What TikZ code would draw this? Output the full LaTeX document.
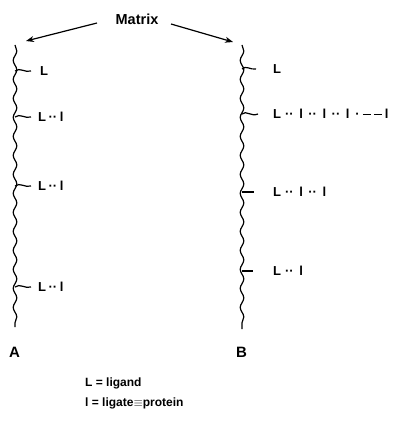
\documentclass[tikz,border=0pt]{standalone}
\usepackage{fontspec}
\setmainfont{Liberation Sans}
\usetikzlibrary{decorations.pathmorphing,arrows.meta}
\newcommand{\dd}{\hspace{2.5pt}··\hspace{2.5pt}}
\newcommand{\DD}{\hspace{5.5pt}··\hspace{5.5pt}}
\newcommand{\dsh}{\rule[3.5pt]{8pt}{1.3pt}}
\begin{document}
\begin{tikzpicture}[x=1pt,y=-1pt,
  wavy/.style={line width=1.2pt,decorate,decoration={snake,amplitude=1.8pt,segment length=19pt}},
  tick/.style={line width=1.2pt},
  lbl/.style={anchor=west,inner sep=0pt,font=\fontsize{13}{14}\selectfont\bfseries},
  arr/.style={line width=1.2pt,-{Stealth[length=8pt,width=6pt]}}]
\useasboundingbox (0,0) rectangle (395,422);
\node[font=\fontsize{14.5}{16}\selectfont\bfseries] (m) at (137,19) {Matrix};
\coordinate (la) at (26,41);
\coordinate (ra) at (233,42);
\draw[arr] (97,23) -- (la);
\draw[arr] (171,24) -- (ra);
% wavy lines
\coordinate (lt) at (15,45); \coordinate (lb) at (15,327);
\coordinate (rt) at (242,45); \coordinate (rb) at (242,329);
\draw[wavy] (lt) -- (lb);
\draw[wavy] (rt) -- (rb);
% left branches
\node[lbl] (l1) at (40,71) {L};
\node[lbl] (l2) at (38,117) {L\dd l};
\node[lbl] (l3) at (38,186) {L\dd l};
\node[lbl] (l4) at (38,287) {L\dd l};
\foreach \n/\y in {l1/71,l2/117,l3/186,l4/287}
  \draw[tick] (15,\y) .. controls (20,\y-4) and (25,\y+2) .. (31,\y);
% right branches
\node[lbl] (r1) at (273,69) {L};
\node[lbl] (r2) at (273,114) {L\hspace{4pt}··\hspace{5.5pt}l\DD l\DD l\hspace{6pt}·\hspace{3pt}\dsh\hspace{3pt}\dsh\hspace{3pt}l};
\node[lbl] (r3) at (273,192) {L\hspace{4pt}··\hspace{5.5pt}l\DD l};
\node[lbl] (r4) at (273,271) {L\hspace{4pt}··\hspace{5.5pt}l};
\draw[tick] (242,69) .. controls (246,65) and (250,70) .. (256,69);
\draw[tick] (242,114) .. controls (246,110) and (251,117) .. (258,114);
\draw[tick] (242,192) -- (254,192);
\draw[tick] (242,271) -- (253,271);
% labels
\node[font=\fontsize{15}{16}\selectfont\bfseries,anchor=west,inner sep=0pt] (A) at (9,352) {A};
\node[font=\fontsize{15}{16}\selectfont\bfseries,anchor=west,inner sep=0pt] (B) at (236,352) {B};
\node[anchor=west,inner sep=0pt,font=\fontsize{12}{13}\selectfont\bfseries] (k1) at (85,383) {L = ligand};
\node[anchor=west,inner sep=0pt,font=\fontsize{12}{13}\selectfont\bfseries] (k2) at (85,403) {l = ligate$\equiv$protein};
\end{tikzpicture}
\end{document}
